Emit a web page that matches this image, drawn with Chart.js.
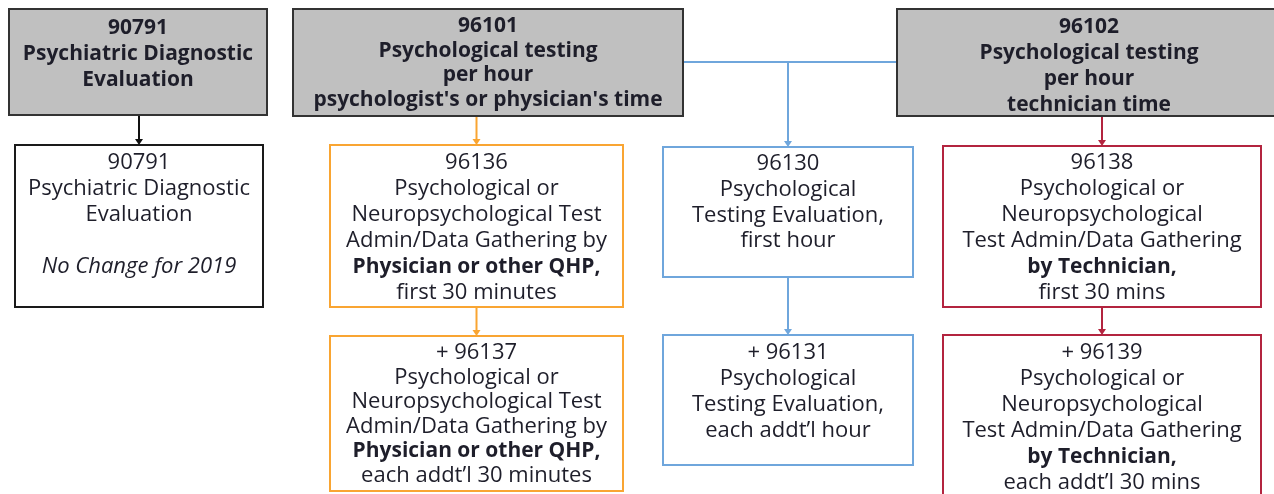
<!DOCTYPE html>
<html>
<head>
<meta charset="utf-8">
<script src="https://cdn.jsdelivr.net/npm/chart.js@4/dist/chart.umd.min.js"></script>
<style>
  html, body { margin: 0; padding: 0; background: #fff; }
  #wrap { width: 1274px; height: 494px; position: relative; }
</style>
</head>
<body>
<div id="wrap"><canvas id="flowChart"></canvas></div>
<script>
// CPT code changes: old codes (top row) and the new codes that replace them
const nodeCodes = ['90791', '96101', '96102', '90791', '96136', '96130', '96138', '+ 96137', '+ 96131', '+ 96139'];
const nodeText = [
  ['Psychiatric Diagnostic', 'Evaluation'],
  ['Psychological testing', 'per hour', "psychologist's or physician's time"],
  ['Psychological testing', 'per hour', 'technician time'],
  ['Psychiatric Diagnostic', 'Evaluation', '', 'No Change for 2019'],
  ['Psychological or', 'Neuropsychological Test', 'Admin/Data Gathering by', 'Physician or other QHP,', 'first 30 minutes'],
  ['Psychological', 'Testing Evaluation,', 'first hour'],
  ['Psychological or', 'Neuropsychological', 'Test Admin/Data Gathering', 'by Technician,', 'first 30 mins'],
  ['Psychological or', 'Neuropsychological Test', 'Admin/Data Gathering by', 'Physician or other QHP,', 'each addt\u2019l 30 minutes'],
  ['Psychological', 'Testing Evaluation,', 'each addt\u2019l hour'],
  ['Psychological or', 'Neuropsychological', 'Test Admin/Data Gathering', 'by Technician,', 'each addt\u2019l 30 mins']
];
// which node leads to which
const links = [[0, 3], [1, 4], [4, 7], [5, 8], [2, 6], [6, 9]];

// layout (in chart units, same as page pixels): [left, top, right, bottom]
const boxes = [
  [9, 9, 267, 115], [293, 9, 683, 116], [897, 9, 1281, 116],
  [15, 145, 263, 307], [330, 145, 623, 307], [663, 147, 913, 277], [943, 146, 1261, 307],
  [330, 336, 623, 491], [663, 335, 913, 465], [943, 335, 1261, 500]
];
const firstLine = [28, 26, 27, 163, 163, 164, 163, 353, 353, 353];
const lineGap = [26, 24.7, 26, 26, 26, 25.7, 26, 24.6, 26, 26];
const kinds = ['gray', 'gray', 'gray', 'black', 'orange', 'blue', 'red', 'orange', 'blue', 'red'];
// line index counts the code line as 0
const boldLines = { 4: [4], 6: [4], 7: [4], 9: [4] };
const italicLines = { 3: [4] };
const colors = { gray: '#333333', black: '#1a1a1a', orange: '#f9a532', blue: '#6fa6dc', red: '#b3243f' };
const FONT = '"Open Sans"';
const textColor = '#1e1e2a';

const flowPlugin = {
  id: 'flow',
  afterDatasetsDraw(chart) {
    const ctx = chart.ctx;
    const sx = chart.scales.x, sy = chart.scales.y;
    const px = v => sx.getPixelForValue(v);
    const py = v => sy.getPixelForValue(v);

    // size the fonts so sample lines have the widths seen in the picture
    ctx.save();
    ctx.font = '20px ' + FONT;
    const fontPx = 20 * 250 / ctx.measureText('Neuropsychological Test').width;
    ctx.font = 'bold 20px ' + FONT;
    const boldPx = 20 * 219 / ctx.measureText('Psychological testing').width;
    ctx.restore();

    function arrow(x, y0, y1, col) {
      ctx.strokeStyle = col; ctx.fillStyle = col; ctx.lineWidth = 2;
      ctx.beginPath(); ctx.moveTo(px(x), py(y0)); ctx.lineTo(px(x), py(y1) - 4); ctx.stroke();
      ctx.beginPath();
      ctx.moveTo(px(x) - 4, py(y1) - 6); ctx.lineTo(px(x) + 4, py(y1) - 6); ctx.lineTo(px(x), py(y1));
      ctx.closePath(); ctx.fill();
    }

    ctx.save();
    // connectors
    links.forEach(([a, b]) => {
      const cx = (boxes[b][0] + boxes[b][2]) / 2;
      const col = kinds[b] === 'black' ? '#111' : colors[kinds[b]];
      arrow(cx, boxes[a][3], boxes[b][1], col);
    });
    // shared connector from 96101 and 96102 down to 96130
    const midX = (boxes[5][0] + boxes[5][2]) / 2;
    const joinY = 62;
    ctx.strokeStyle = colors.blue; ctx.lineWidth = 2;
    ctx.beginPath(); ctx.moveTo(px(boxes[1][2]), py(joinY)); ctx.lineTo(px(boxes[2][0]), py(joinY)); ctx.stroke();
    arrow(midX, joinY, boxes[5][1], colors.blue);

    // boxes and text
    boxes.forEach((b, i) => {
      const x0 = px(b[0]), y0 = py(b[1]), x1 = px(b[2]), y1 = py(b[3]);
      const kind = kinds[i];
      ctx.fillStyle = kind === 'gray' ? '#c0c0c0' : '#ffffff';
      ctx.fillRect(x0, y0, x1 - x0, y1 - y0);
      ctx.strokeStyle = colors[kind]; ctx.lineWidth = 2;
      ctx.strokeRect(x0, y0, x1 - x0, y1 - y0);

      const cx = (x0 + x1) / 2;
      const lines = [nodeCodes[i]].concat(nodeText[i]);
      ctx.fillStyle = textColor;
      ctx.textAlign = 'center'; ctx.textBaseline = 'middle';
      lines.forEach((t, j) => {
        const bold = kind === 'gray' || (boldLines[i] || []).includes(j);
        const ital = (italicLines[i] || []).includes(j);
        const size = bold ? boldPx : fontPx;
        ctx.font = (ital ? 'italic ' : '') + (bold ? 'bold ' : '') + size.toFixed(2) + 'px ' + FONT;
        ctx.fillText(t, cx, py(firstLine[i] + j * lineGap[i]));
      });
    });
    ctx.restore();
  }
};

new Chart(document.getElementById('flowChart').getContext('2d'), {
  type: 'scatter',
  data: {
    datasets: [{
      label: 'nodes',
      data: boxes.map(b => ({ x: (b[0] + b[2]) / 2, y: (b[1] + b[3]) / 2 })),
      pointRadius: 0
    }]
  },
  options: {
    responsive: true,
    maintainAspectRatio: false,
    animation: false,
    layout: { padding: 0 },
    plugins: { legend: { display: false }, tooltip: { enabled: false } },
    scales: {
      x: { type: 'linear', min: 0, max: 1274, display: false },
      y: { type: 'linear', min: 0, max: 494, reverse: true, display: false }
    }
  },
  plugins: [flowPlugin]
});
</script>
</body>
</html>
